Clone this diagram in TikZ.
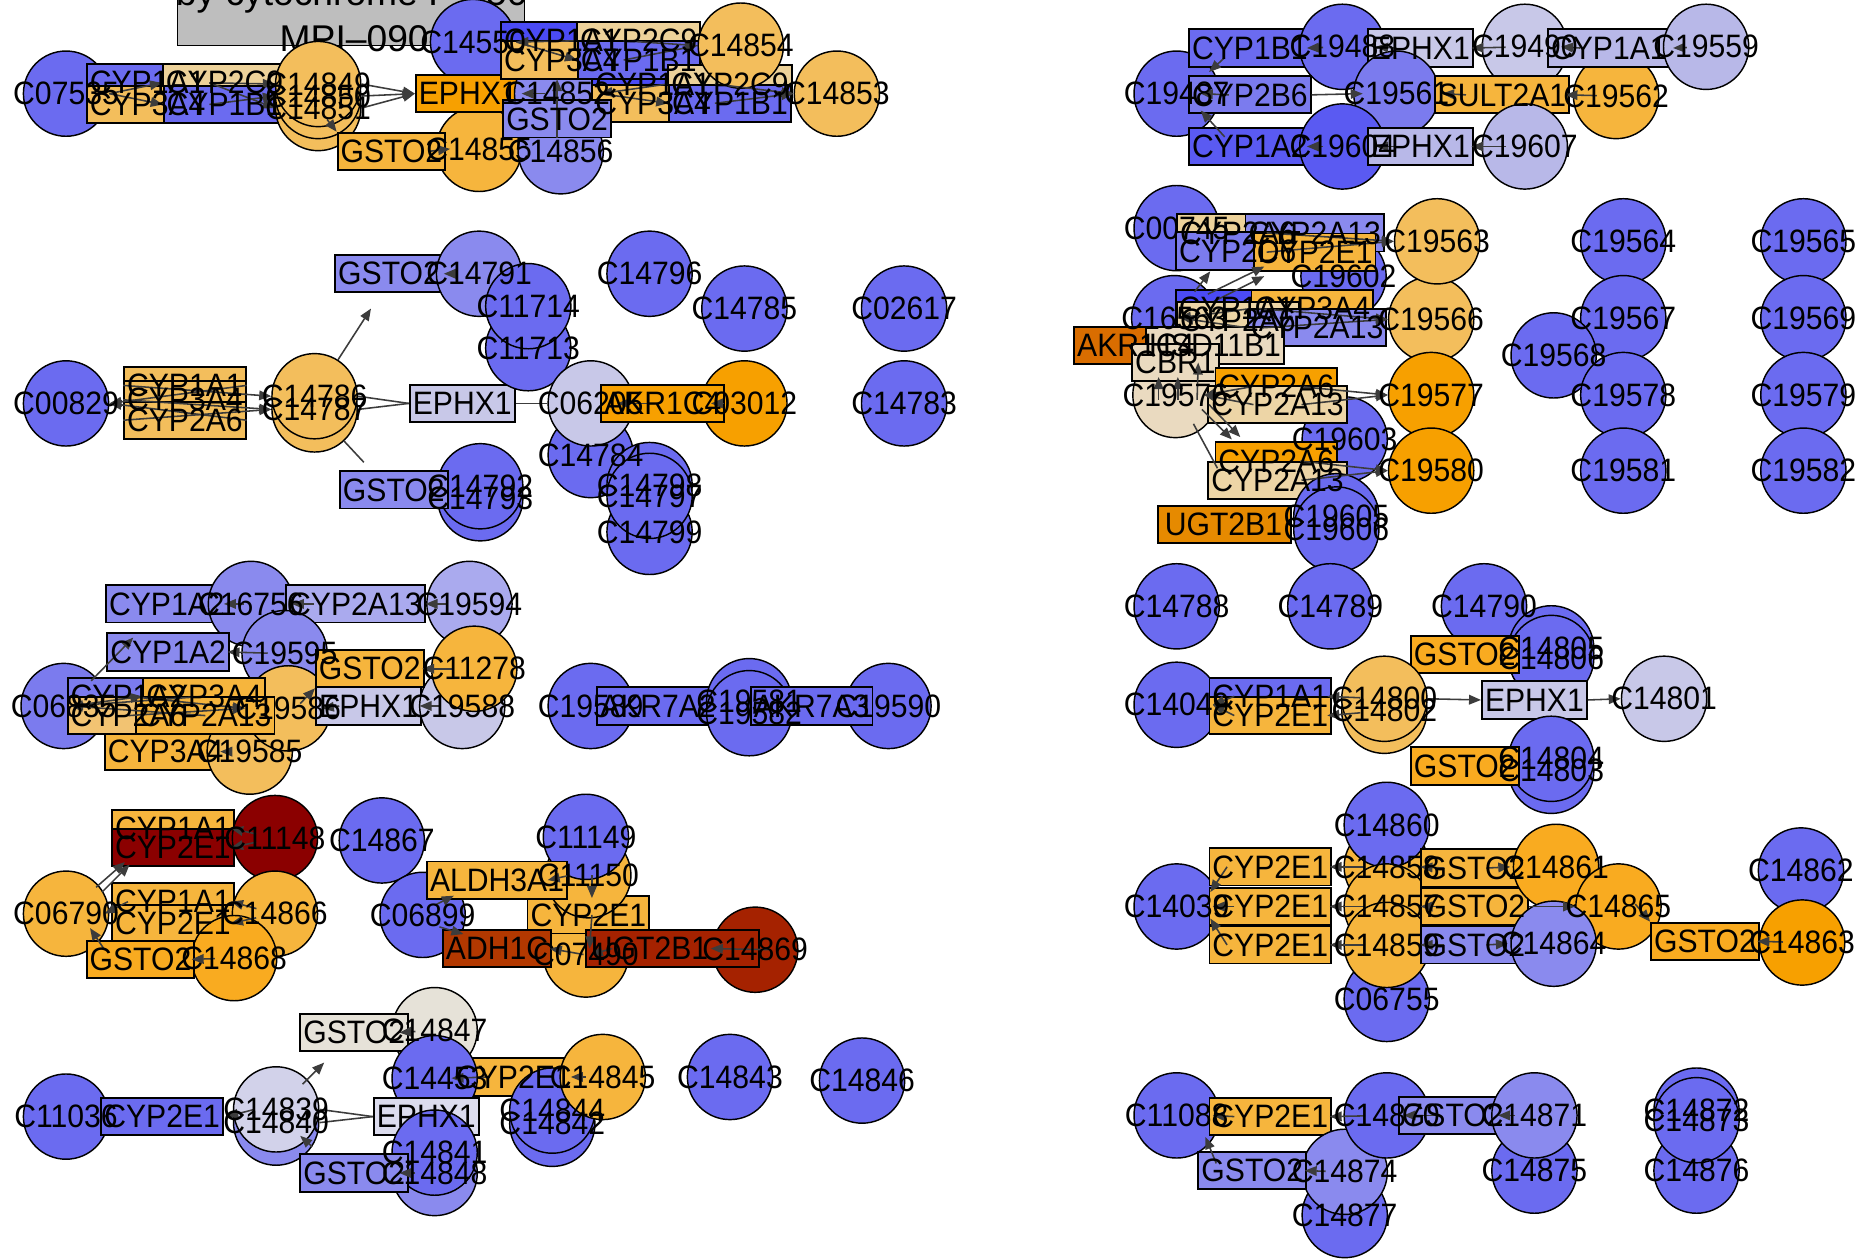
\documentclass[tikz,border=0pt]{standalone}
\usepackage{fontspec}
\usepackage{etoolbox}
\setmainfont{Liberation Sans}[FakeStretch=0.93]
\newfontfamily\titlefont{Liberation Sans}
\usetikzlibrary{arrows.meta}
\definecolor{kbl}{HTML}{6B6BF0}
\definecolor{kmb}{HTML}{8A8AEE}
\definecolor{kmc}{HTML}{7B7BEE}
\definecolor{klv}{HTML}{C8C8E8}
\definecolor{klb}{HTML}{B8B8E8}
\definecolor{kla}{HTML}{AAAAEE}
\definecolor{kdb}{HTML}{4B4BF5}
\definecolor{kdc}{HTML}{5A5AF2}
\definecolor{kll}{HTML}{D2D2EA}
\definecolor{kle}{HTML}{DCDCEE}
\definecolor{koL}{HTML}{F3BE5C}
\definecolor{ko1}{HTML}{F6B53D}
\definecolor{ko2}{HTML}{F9AB20}
\definecolor{ko3}{HTML}{F7A000}
\definecolor{kdo}{HTML}{E68A00}
\definecolor{kdk}{HTML}{D96D00}
\definecolor{kwh}{HTML}{EDD29A}
\definecolor{kbg}{HTML}{EADAC0}
\definecolor{kbw}{HTML}{EDD5A6}
\definecolor{klo}{HTML}{F2C372}
\definecolor{kgb}{HTML}{E6E2D8}
\definecolor{kdr}{HTML}{8B0000}
\definecolor{krb}{HTML}{A52200}
\definecolor{krc}{HTML}{B23800}
\definecolor{ktg}{HTML}{BEBEBE}
\definecolor{kedge}{HTML}{3C3C3C}
\newcommand\labfont{\fontsize{27}{27}\selectfont}
\newcommand\alllabels{}
\newcommand\cn[5]{\node[cir,fill=#4] (#1) at (#2,#3) {};\gappto\alllabels{\node[lab] at (#1) {#5};}}
\newcommand\bx[5]{\node[bxs,fill=#4] (#1) at (#2,#3) {\phantom{#5}};\gappto\alllabels{\node[lab] at (#1) {#5};}}
\begin{document}
\begin{tikzpicture}[x=1pt,y=-1pt,
  cir/.style={circle,draw=black,line width=1.2pt,minimum size=71pt,inner sep=0pt},
  bxs/.style={rectangle,draw=black,line width=1.6pt,minimum height=31pt,inner xsep=2.5pt,inner ysep=0pt,font=\labfont},
  lab/.style={inner sep=0pt,font=\labfont},
  arr/.style={draw=kedge,line width=1.3pt,-{Triangle[length=10pt,width=8pt]}},
  ln/.style={draw=kedge,line width=1.3pt}]
\useasboundingbox (0,0) rectangle (1560,1048);
\fill[white] (0,0) rectangle (1560,1048);
% ---------- cluster 1 ----------
\node[draw=black,line width=1.3pt,fill=ktg,minimum width=289pt,minimum height=63pt,inner sep=0pt] (title) at (292.5,6.5) {};
\node[inner sep=0pt,font=\titlefont\fontsize{31}{31}\selectfont] (t1) at (293,-3.5) {by cytochrome P-450};
\node[inner sep=0pt,font=\titlefont\fontsize{31}{31}\selectfont] (t2) at (295,32) {MPI–090};
\cn{c07535}{55}{78}{kbl}{C07535}
\bx{b1}{123}{69}{kbl}{CYP1A1}
\bx{b2}{187}{69}{kwh}{CYP2C9}
\bx{b3}{123}{87}{koL}{CYP3A4}
\bx{b4}{187}{87}{kbl}{CYP1B1}
\cn{c14851}{265}{90}{koL}{C14851}
\cn{c14850}{265}{80}{koL}{C14850}
\cn{c14849}{265}{70}{koL}{C14849}
\cn{c14855}{399}{124}{ko1}{C14855}
\cn{c14856}{467}{126}{kmb}{C14856}
\bx{g1a}{326}{126}{ko1}{GSTO2}
\cn{c14550}{394}{35}{kbl}{C14550}
\bx{e1a}{390}{78}{ko3}{EPHX1}
\cn{c14852}{464}{78}{kmb}{C14852}
\bx{b5}{544}{70}{kdb}{CYP1A1}
\bx{b6}{468}{34}{kdb}{CYP1A1}
\bx{b7}{532}{34}{kwh}{CYP2C9}
\bx{b8}{468}{50}{koL}{CYP3A4}
\bx{b9}{532}{50}{kbl}{CYP1B1}
\bx{b10}{608}{70}{kwh}{CYP2C9}
\bx{b11}{544}{86}{koL}{CYP3A4}
\bx{b12}{608}{86}{kbl}{CYP1B1}
\bx{g1b}{464}{99}{kmb}{GSTO2}
\cn{c14854}{617}{38}{koL}{C14854}
\cn{c14853}{697}{78}{koL}{C14853}
% ---------- cluster 2 ----------
\cn{c00829}{55}{336}{kbl}{C00829}
\bx{b13}{154}{321}{koL}{CYP1A1}
\bx{b14}{154}{333}{koL}{CYP3A4}
\bx{b15}{154}{350}{koL}{CYP2A6}
\cn{c14787}{262}{341}{koL}{C14787}
\cn{c14786}{262}{330}{koL}{C14786}
\bx{e1b}{385}{336}{klv}{EPHX1}
\bx{g2a}{324}{228}{kmb}{GSTO2}
\cn{c14791}{399}{228}{kmb}{C14791}
\cn{c11713}{440}{290}{kbl}{C11713}
\cn{c11714}{440}{255}{kbl}{C11714}
\cn{c14796}{541}{228}{kbl}{C14796}
\cn{c14785}{620}{257}{kbl}{C14785}
\cn{c02617}{753}{257}{kbl}{C02617}
\cn{c14784}{492}{379}{kbl}{C14784}
\cn{c06205}{492}{336}{klv}{C06205}
\cn{c03012}{620}{336}{ko3}{C03012}
\bx{ak1}{552}{336}{ko3}{AKR1C4}
\cn{c14783}{753}{336}{kbl}{C14783}
\cn{c14799}{541}{443}{kbl}{C14799}
\cn{c14798}{541}{404}{kbl}{C14798}
\cn{c14797}{541}{413}{kbl}{C14797}
\cn{c14793}{400}{415}{kbl}{C14793}
\cn{c14792}{400}{405}{kbl}{C14792}
\bx{g2b}{328}{408}{kmb}{GSTO2}
% ---------- cluster 3 ----------
\bx{b16}{139}{503}{kmb}{CYP1A2}
\cn{c16756}{209}{503}{kmb}{C16756}
\bx{b17}{296}{503}{kla}{CYP2A13}
\cn{c19594}{391}{503}{kla}{C19594}
\cn{c19595}{237}{544}{kmb}{C19595}
\bx{b18}{140}{543}{kmb}{CYP1A2}
\cn{c06835}{53}{588}{kmc}{C06835}
\bx{b19}{138}{626}{ko1}{CYP3A4}
\cn{c19585}{208}{626}{koL}{C19585}
\cn{c19586}{240}{590}{koL}{C19586}
\bx{b20}{107}{580}{kmc}{CYP1A2}
\bx{b21}{170}{580}{ko1}{CYP3A4}
\bx{b22}{107}{596}{klo}{CYP2A6}
\bx{b23}{171}{596}{ko1}{CYP2A13}
\bx{e1c}{307}{588}{klv}{EPHX1}
\cn{c19588}{385}{588}{klv}{C19588}
\bx{g3a}{308}{557}{ko1}{GSTO2}
\cn{c11278}{395}{557}{ko1}{C11278}
\cn{c19589}{492}{588}{kbl}{C19589}
\bx{ak2}{548}{588}{kbl}{AKR7A2}
\cn{c19581}{624}{584}{kbl}{C19581}
\cn{c19582}{624}{594}{kbl}{C19582}
\cn{c19590}{740}{588}{kbl}{C19590}
\bx{ak3}{676}{588}{kbl}{AKR7A3}
% ---------- cluster 4 ----------
\bx{b24}{144}{690}{ko1}{CYP1A1}
\bx{b25}{144}{706}{kdr}{CYP2E1}
\cn{c11148}{229}{698}{kdr}{C11148}
\cn{c14867}{318}{700}{kbl}{C14867}
\cn{c06790}{55}{761}{ko1}{C06790}
\bx{b26}{144}{751}{ko1}{CYP1A1}
\bx{b27}{144}{769}{ko1}{CYP2E1}
\cn{c14866}{229}{761}{ko1}{C14866}
\cn{c14868}{195}{798}{ko2}{C14868}
\bx{g4a}{117}{799}{ko2}{GSTO2}
\cn{c06899}{352}{762}{kbl}{C06899}
\cn{c07490}{488}{795}{ko1}{C07490}
\bx{b28}{490}{762}{ko1}{CYP2E1}
\cn{c11150}{490}{729}{ko1}{C11150}
\cn{c11149}{488}{697}{kbl}{C11149}
\bx{al1}{414}{733}{ko1}{ALDH3A1}
\bx{ad1}{414}{790}{krc}{ADH1C}
\cn{c14869}{629}{791}{krb}{C14869}
\node[bxs,fill=krb,minimum width=144pt] (ug1) at (560,790) {};
\gappto\alllabels{\node[lab] at (541,790) {UGT2B1};}
% ---------- cluster 5 ----------
\cn{c14847}{362}{858}{kgb}{C14847}
\bx{g5a}{295}{860}{kgb}{GSTO2}
\bx{b29}{428}{897}{ko1}{CYP2E1}
\cn{c14453}{362}{898}{kbl}{C14453}
\cn{c14842}{460}{936}{kbl}{C14842}
\cn{c14844}{460}{925}{kbl}{C14844}
\cn{c14845}{502}{897}{ko1}{C14845}
\cn{c14840}{230}{935}{kmb}{C14840}
\cn{c14839}{230}{924}{kll}{C14839}
\cn{c11036}{55}{930}{kbl}{C11036}
\bx{b30}{135}{930}{kbl}{CYP2E1}
\bx{e1d}{355}{930}{kle}{EPHX1}
\cn{c14848}{362}{977}{kmb}{C14848}
\cn{c14841}{362}{960}{kbl}{C14841}
\bx{g5b}{295}{977}{kmb}{GSTO2}
\cn{c14843}{608}{897}{kbl}{C14843}
\cn{c14846}{718}{900}{kbl}{C14846}
% ---------- right R1 ----------
\cn{c19487}{980}{78}{kbl}{C19487}
\bx{r1}{1041}{40}{kbl}{CYP1B1}
\cn{c19488}{1118}{39}{kbl}{C19488}
\bx{e1r}{1183}{40}{klv}{EPHX1}
\cn{c19490}{1270}{39}{klv}{C19490}
\cn{c19562}{1346}{80}{ko1}{C19562}
\bx{r2}{1340}{40}{klb}{CYP1A1}
\cn{c19559}{1421}{39}{klb}{C19559}
\bx{r3}{1041}{79}{kmc}{CYP2B6}
\cn{c19561}{1163}{78}{kmc}{C19561}
\bx{su}{1251}{79}{ko1}{SULT2A1}
\bx{r4}{1041}{122}{kdc}{CYP1A2}
\cn{c19604}{1118}{122}{kdc}{C19604}
\bx{e2r}{1183}{122}{klb}{EPHX1}
\cn{c19607}{1270}{122}{klb}{C19607}
% ---------- right R2 ----------
\cn{c00745}{980}{190}{kbl}{C00745}
\cn{c19602}{1119}{230}{kbl}{C19602}
\bx{r5}{1031}{194}{kwh}{CYP2A6}
\bx{r6}{1095}{194}{kmb}{CYP2A13}
\bx{r7}{1031}{209}{kmc}{CYP2D6}
\bx{r8}{1095}{210}{ko1}{CYP2E1}
\cn{c16563}{978}{265}{kbl}{C16563}
\bx{r9}{1030}{257}{kdb}{CYP1A1}
\bx{r10}{1093}{257}{ko1}{CYP3A4}
\bx{r11}{1031}{267}{kbw}{CYP2A6}
\bx{r12}{1097}{273}{kmb}{CYP2A13}
\cn{c19566}{1192}{266}{koL}{C19566}
\cn{c19563}{1197}{201}{koL}{C19563}
\cn{c19576}{979}{329}{kbg}{C19576}
\bx{ak4}{946}{288}{kdk}{AKR1C4}
\bx{hs}{1012}{288}{kbg}{HSD11B1}
\bx{cb}{979}{302}{kbg}{CBR1}
\cn{c19603}{1120}{366}{kbl}{C19603}
\bx{r13}{1063}{322}{ko3}{CYP2A6}
\bx{r14}{1064}{337}{kbw}{CYP2A13}
\cn{c19577}{1192}{329}{ko3}{C19577}
\bx{r15}{1063}{384}{ko3}{CYP2A6}
\bx{r16}{1064}{400}{kbw}{CYP2A13}
\cn{c19580}{1192}{392}{ko3}{C19580}
\cn{c19605}{1113}{430}{kbl}{C19605}
\node[bxs,fill=kdo,minimum width=111pt] (ug2) at (1020,437) {};
\gappto\alllabels{\node[lab] at (1019,437) {UGT2B1};}
\cn{c19606}{1113}{441}{kbl}{C19606}
\cn{c19564}{1352}{201}{kbl}{C19564}
\cn{c19567}{1352}{265}{kbl}{C19567}
\cn{c19568}{1294}{296}{kbl}{C19568}
\cn{c19578}{1352}{329}{kbl}{C19578}
\cn{c19581r}{1352}{392}{kbl}{C19581}
\cn{c19565}{1502}{201}{kbl}{C19565}
\cn{c19569}{1502}{265}{kbl}{C19569}
\cn{c19579}{1502}{329}{kbl}{C19579}
\cn{c19582r}{1502}{392}{kbl}{C19582}
% ---------- right R3/R4 ----------
\cn{c14788}{980}{505}{kbl}{C14788}
\cn{c14789}{1108}{505}{kbl}{C14789}
\cn{c14790}{1236}{505}{kbl}{C14790}
\cn{c14805}{1292}{540}{kbl}{C14805}
\cn{c14806}{1292}{548}{kbl}{C14806}
\bx{g6a}{1220}{545}{ko2}{GSTO2}
\cn{c14049}{980}{587}{kbl}{C14049}
\bx{r17}{1058}{580}{kbl}{CYP1A1}
\bx{r18}{1058}{596}{ko1}{CYP2E1}
\cn{c14802}{1153}{592}{koL}{C14802}
\cn{c14800}{1153}{582}{koL}{C14800}
\bx{e1e}{1278}{583}{klv}{EPHX1}
\cn{c14801}{1386}{582}{klv}{C14801}
\cn{c14803}{1292}{642}{kbl}{C14803}
\cn{c14804}{1292}{632}{kbl}{C14804}
\bx{g6b}{1220}{638}{ko2}{GSTO2}
% ---------- right R5 ----------
\cn{c14039}{980}{755}{kbl}{C14039}
\bx{r19}{1058}{722}{ko1}{CYP2E1}
\bx{r20}{1058}{755}{ko1}{CYP2E1}
\bx{r21}{1058}{787}{ko1}{CYP2E1}
\cn{c14858}{1155}{722}{ko1}{C14858}
\cn{c14860}{1155}{687}{kbl}{C14860}
\cn{c14857}{1155}{755}{ko1}{C14857}
\cn{c06755}{1155}{832}{kbl}{C06755}
\cn{c14859}{1155}{787}{ko1}{C14859}
\bx{g7a}{1228}{723}{ko1}{GSTO2}
\bx{g7b}{1228}{755}{ko1}{GSTO2}
\bx{g7c}{1228}{787}{kmb}{GSTO2}
\cn{c14861}{1296}{722}{ko2}{C14861}
\cn{c14865}{1348}{755}{ko2}{C14865}
\cn{c14864}{1294}{786}{kmb}{C14864}
\bx{g7d}{1420}{784}{ko2}{GSTO2}
\cn{c14862}{1500}{725}{kbl}{C14862}
\cn{c14863}{1501}{785}{ko3}{C14863}
% ---------- right R6 ----------
\cn{c11088}{980}{929}{kbl}{C11088}
\bx{r22}{1058}{930}{ko1}{CYP2E1}
\cn{c14877}{1120}{1012}{kbl}{C14877}
\cn{c14874}{1120}{976}{kmb}{C14874}
\cn{c14870}{1155}{929}{kbl}{C14870}
\bx{g8b}{1043}{975}{kmb}{GSTO2}
\cn{c14875}{1278}{975}{kbl}{C14875}
\bx{g8a}{1210}{929}{kmb}{GSTO2}
\cn{c14871}{1278}{929}{kmb}{C14871}
\cn{c14876}{1413}{975}{kbl}{C14876}
\cn{c14872}{1413}{925}{kbl}{C14872}
\cn{c14873}{1413}{933}{kbl}{C14873}
% ---------- free ends ----------
\coordinate (cv1) at (464,66);
\coordinate (cf1) at (309,257);
\coordinate (cf2) at (303,385);
\coordinate (cf3) at (270,885);
% ---------- edges cluster 1 ----------
\draw[arr] (c07535.east) -- (b2.west);
\draw[arr] (c07535.east) -- (b4.west);
\draw[arr] (b1.east) -- (c14849.west);
\draw[arr] (b3.east) -- (c14850.west);
\draw[arr] (b1.east) -- (c14851.west);
\draw[arr] (c14849.east) -- (e1a.west);
\draw[arr] (c14850.east) -- (e1a.west);
\draw[arr] (c14851.east) -- (e1a.west);
\draw[arr,shorten <=10pt] (c14852.center) -- (e1a.east);
\draw[arr,shorten <=12pt] (c14851.center) -- (g1a.north west);
\draw[arr] ([xshift=-14pt]g1a.east) -- ([xshift=12pt]c14855.west);
\draw[arr] (g1b.south) -- (cv1);
\draw[arr] (b7.west) -- (c14550.east);
\draw[arr] (c14550.east) -- (b9.west);
\draw[arr] (b6.east) -- (c14854.west);
\draw[arr] (b8.east) -- (c14854.west);
\draw[arr] (b10.west) -- (c14852.east);
\draw[arr] (c14852.east) -- (b12.west);
\draw[arr] (b5.east) -- (c14853.west);
\draw[arr] (b11.east) -- (c14853.west);
% ---------- edges cluster 2 ----------
\draw[arr] (b13.east) -- (c00829.east);
\draw[arr] (b15.east) -- (c00829.east);
\draw[arr] (b13.west) -- (c14786.west);
\draw[arr] (b14.west) -- (c14787.west);
\draw[arr] (b15.west) -- (c14787.west);
\draw[ln] (c14786.east) -- (e1b.west);
\draw[ln] (c14787.east) -- (e1b.west);
\draw[ln] (e1b.east) -- (c06205.west);
\draw[arr] (c14786) -- (cf1);
\draw[ln] (c14787) -- (cf2);
\draw[arr,shorten <=20pt] (c14791.center) -- (g2a.east);
\draw[arr,shorten <=18pt] (c03012.center) -- ([xshift=-12pt]ak1.east);
\draw[arr,shorten <=8pt] (ak1.center) -- ([xshift=-14pt]c06205.east);
% ---------- edges cluster 3 ----------
\draw[arr,shorten <=18pt] (c19594.center) -- (b17.east);
\draw[arr] ([xshift=24pt]b17.west) -- ([xshift=-2pt]c16756.east);
\draw[arr] ([xshift=-6pt]c16756.center) -- ([xshift=-4pt]b16.east);
\draw[arr] ([xshift=-14pt]c19595.center) -- ([xshift=-2pt]b18.east);
\draw[arr] ([shift={(23,-21)}]c06835.center) -- ([shift={(-29,-12)}]b18.center);
\draw[arr] (b21.center) -- ([xshift=6pt]c06835.center);
\draw[arr] (b23.center) -- ([xshift=6pt]c06835.center);
\draw[arr] ([xshift=6pt]c06835.center) -- (b21.west);
\draw[arr] (b20.center) -- (c19586.west);
\draw[arr] (b22.center) -- (c19586.west);
\draw[arr,shorten <=18pt] (c19585.center) -- ([xshift=-6pt]b19.east);
\draw[arr,shorten <=18pt] (c19588.center) -- ([xshift=-2pt]e1c.east);
\draw[arr] ([xshift=20pt]e1c.west) -- ([xshift=-8pt]c19586.east);
\draw[arr,shorten <=18pt] (c11278.center) -- ([xshift=-2pt]g3a.east);
\draw[arr] ([shift={(10,-4)}]c19586.center) -- (g3a.south west);
% ---------- edges cluster 4 ----------
\draw[arr,shorten <=16pt] (c11148.center) -- ([xshift=-3pt]b24.east);
\draw[arr,shorten <=16pt] (c11148.center) -- ([xshift=-3pt]b25.east);
\draw[arr] ([shift={(25,-22)}]c06790.center) -- ([shift={(-40,12)}]b25.center);
\draw[arr] ([shift={(30,-18)}]c06790.center) -- ([shift={(-36,14)}]b25.center);
\draw[arr,shorten <=16pt] (c14866.center) -- ([xshift=-3pt]b26.east);
\draw[arr,shorten <=16pt] (c14866.center) -- ([xshift=-3pt]b27.east);
\draw[arr] ([xshift=14pt]b26.west) -- ([xshift=-4pt]c06790.east);
\draw[arr] ([shift={(-30,-8)}]g4a.center) -- ([shift={(20,12)}]c06790.center);
\draw[arr,shorten <=16pt] (c14868.center) -- ([xshift=-3pt]g4a.east);
\draw[arr] ([xshift=-15pt]c11150.center) -- ([xshift=-17pt]al1.east);
\draw[arr] ([shift={(3,0)}]c11150.center) -- ([shift={(3,-14)}]b28.center);
\draw[arr] ([shift={(3,0)}]b28.center) -- ([shift={(3,-5)}]c07490.center);
\draw[arr] ([shift={(10,-8)}]c06899.center) -- ([shift={(-36,13)}]al1.center);
\draw[arr] ([shift={(14,10)}]c06899.center) -- ([shift={(-28,-12)}]ad1.center);
\draw[arr] ([xshift=-2pt]c07490.center) -- ([xshift=-2pt]ad1.east);
\draw[arr] ([xshift=-50pt]ug1.center) -- ([xshift=4pt]c07490.center);
\draw[arr] ([xshift=12pt]c14869.center) -- ([xshift=32pt]ug1.center);
% ---------- edges cluster 5 ----------
\draw[arr,shorten <=16pt] (c14847.center) -- ([xshift=-8pt]g5a.east);
\draw[arr,shorten <=16pt] (c14848.center) -- ([xshift=-8pt]g5b.east);
\draw[arr,shorten <=14pt] (c14845.center) -- ([xshift=-4pt]b29.east);
\draw[arr] ([xshift=-20pt]b29.center) -- ([xshift=14pt]c14453.center);
\draw[arr] ([xshift=-18pt]c14839.center) -- ([xshift=2pt]b30.east);
\draw[arr] ([shift={(22,-21)}]c14839.center) -- (cf3);
\draw[arr] ([shift={(-35,-22)}]g5b.center) -- ([shift={(20,11)}]c14840.center);
\draw[ln] (c14839.east) -- (e1d.west);
\draw[ln] (c14840.east) -- (e1d.west);
% ---------- edges R1 ----------
\draw[arr,shorten <=16pt] (c19559.center) -- ([xshift=2pt]r2.east);
\draw[arr] ([xshift=-24pt]r2.center) -- ([xshift=-6pt]c19490.east);
\draw[arr,shorten <=16pt] (c19490.center) -- ([xshift=-2pt]e1r.east);
\draw[arr] ([xshift=-20pt]e1r.center) -- ([xshift=-8pt]c19488.east);
\draw[arr,shorten <=16pt] (c19488.center) -- ([xshift=-4pt]r1.east);
\draw[arr,shorten <=16pt] (c19607.center) -- ([xshift=-2pt]e2r.east);
\draw[arr] ([xshift=-20pt]e2r.center) -- ([xshift=-8pt]c19604.east);
\draw[arr,shorten <=16pt] (c19604.center) -- ([xshift=-4pt]r4.east);
\draw[arr,shorten <=16pt] (c19562.center) -- ([xshift=-4pt]su.east);
\draw[arr] ([xshift=-30pt]su.center) -- ([xshift=2pt]c19561.east);
\draw[arr] (r3.east) -- ([xshift=-28pt]c19561.center);
\draw[arr] ([xshift=34pt]r3.west) -- ([xshift=-16pt]c19487.east);
\draw[arr] ([shift={(-21,8)}]r1.center) -- ([shift={(27,-18)}]c19487.center);
\draw[arr] ([shift={(-21,-8)}]r4.center) -- ([shift={(20,14)}]c19487.center);
% ---------- edges R2 ----------
\draw[arr] ([xshift=-40pt]r6.center) -- (c19563.west);
\draw[arr] ([xshift=-40pt]r8.center) -- (c19563.west);
\draw[arr] ([shift={(17,-22)}]c16563.center) -- ([shift={(-23,17)}]r7.center);
\draw[arr] ([shift={(28,-20)}]c16563.center) -- ([shift={(-42,12)}]r8.center);
\draw[arr] ([shift={(33,-14)}]c16563.center) -- ([shift={(-42,20)}]r8.center);
\draw[arr] ([xshift=-45pt]r10.center) -- (c19566.west);
\draw[arr] ([xshift=-45pt]r12.center) -- (c19566.west);
\draw[arr] (r10.west) -- ([xshift=4pt]c16563.center);
\draw[arr] (r12.west) -- ([xshift=6pt]c16563.center);
\draw[arr] ([shift={(-14,4)}]c19576.center) -- ([shift={(-14,12)}]cb.center);
\draw[arr] ([shift={(2,4)}]c19576.center) -- ([shift={(2,12)}]cb.center);
\draw[arr] ([shift={(18,4)}]c19576.center) -- ([shift={(-14,14)}]hs.center);
\draw[arr] ([xshift=20pt]r13.center) -- (c19577.west);
\draw[arr] ([xshift=20pt]r14.center) -- (c19577.west);
\draw[arr] ([xshift=20pt]r15.center) -- (c19580.west);
\draw[arr] ([xshift=20pt]r16.center) -- (c19580.west);
\draw[arr] ([xshift=-20pt]r13.center) -- ([xshift=24pt]c19576.center);
\draw[arr] ([xshift=-20pt]r14.center) -- ([xshift=24pt]c19576.center);
\draw[arr] ([shift={(22,12)}]c19576.center) -- ([shift={(-37,-18)}]r15.center);
\draw[arr] ([shift={(28,8)}]c19576.center) -- ([shift={(-30,-20)}]r15.center);
\draw[ln] ([shift={(15,24)}]c19576.center) -- ([shift={(-50,-10)}]r16.center);
% ---------- edges R4 ----------
\draw[arr] (c14800.east) -- (e1e.west);
\draw[arr] (e1e.east) -- (c14801.west);
\draw[arr,shorten <=20pt] (c14800.center) -- ([xshift=-4pt]r17.east);
\draw[arr,shorten <=20pt] (c14802.center) -- ([xshift=-4pt]r18.east);
\draw[arr] ([xshift=-30pt]r17.center) -- ([xshift=-6pt]c14049.east);
\draw[arr] ([xshift=-30pt]r18.center) -- ([xshift=-6pt]c14049.east);
% ---------- edges R5 ----------
\draw[arr,shorten <=18pt] (c14858.center) -- ([xshift=-2pt]r19.east);
\draw[arr] ([xshift=-25pt]g7a.center) -- ([xshift=-8pt]c14858.east);
\draw[arr] ([xshift=10pt]g7a.center) -- ([xshift=-2pt]c14861.west);
\draw[arr,shorten <=18pt] (c14857.center) -- ([xshift=-2pt]r20.east);
\draw[arr] ([xshift=-25pt]g7b.center) -- ([xshift=-8pt]c14857.east);
\draw[arr] (g7b.east) -- (c14865.west);
\draw[arr,shorten <=18pt] (c14859.center) -- ([xshift=-2pt]r21.east);
\draw[arr] ([xshift=-25pt]g7c.center) -- ([xshift=-8pt]c14859.east);
\draw[arr] ([xshift=10pt]g7c.center) -- ([xshift=-2pt]c14864.west);
\draw[arr,shorten <=16pt] (c14863.center) -- ([xshift=-2pt]g7d.east);
\draw[arr] ([shift={(14,-2)}]c14865.center) -- (g7d.north west);
\draw[arr] ([xshift=-36pt]r19.center) -- ([shift={(28,-12)}]c14039.center);
\draw[arr] ([xshift=-30pt]r20.center) -- ([xshift=-6pt]c14039.east);
\draw[arr] ([xshift=-36pt]r21.center) -- ([shift={(28,10)}]c14039.center);
% ---------- edges R6 ----------
\draw[arr,shorten <=18pt] (c14870.center) -- ([xshift=-2pt]r22.east);
\draw[arr] ([xshift=-30pt]r22.center) -- ([xshift=-6pt]c11088.east);
\draw[arr] ([shift={(-30,-6)}]g8b.center) -- ([shift={(24,18)}]c11088.center);
\draw[arr,shorten <=16pt] (c14874.center) -- ([xshift=-2pt]g8b.east);
\draw[arr,shorten <=16pt] (c14871.center) -- ([xshift=-8pt]g8a.east);
\draw[arr] ([xshift=-10pt]g8a.center) -- ([xshift=14pt]c14870.center);
% ---------- labels on top ----------
\alllabels
\end{tikzpicture}
\end{document}
